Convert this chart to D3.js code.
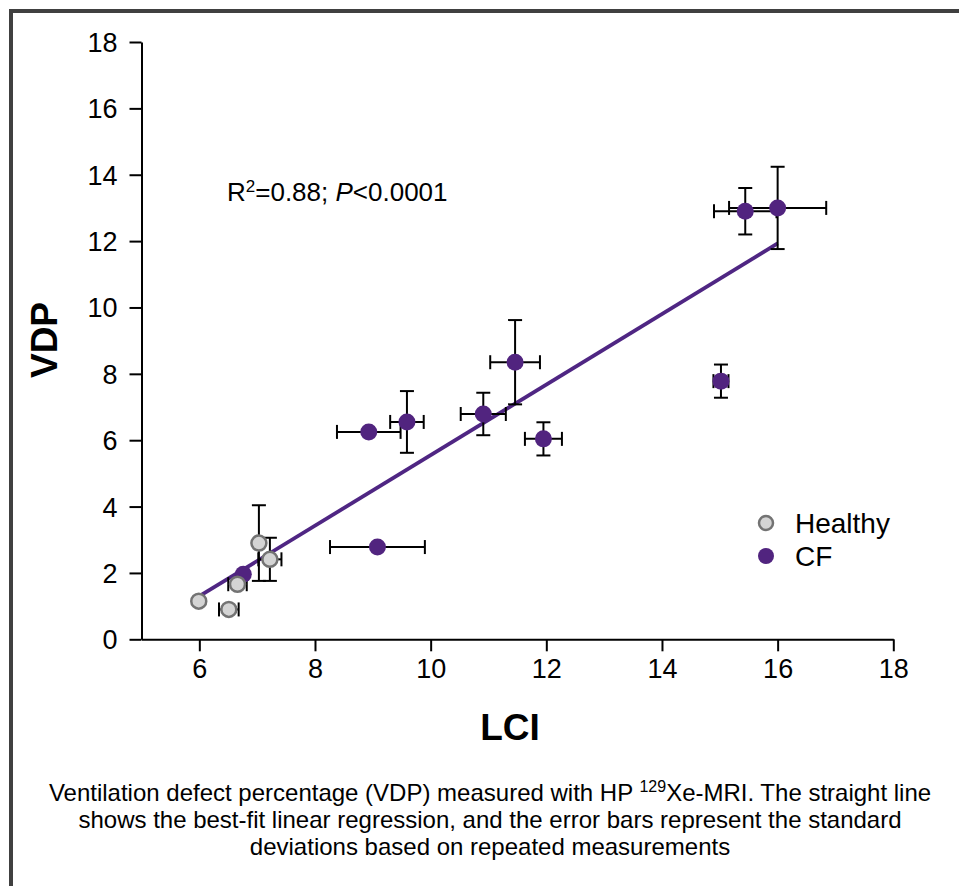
<!DOCTYPE html>
<meta charset="utf-8">
<script src="https://d3js.org/d3.v7.min.js"></script>
<style>
  body { margin: 0; background: #fff; }
  text { font-family: "Liberation Sans", Arial, sans-serif; }
</style>
<div id="chart"></div>
<script>

// Healthy volunteers: LCI, VDP and their SDs
var healthyLCI   = [5.99, 6.51, 6.66, 7.03, 7.22];
var healthyVDP   = [1.15, 0.90, 1.66, 2.90, 2.41];
var healthyLCIsd = [0,    0.17, 0.16, 0,    0.20];
var healthyVDPsd = [0,    0,    0,    1.14, 0.65];

// CF patients
var cfLCI   = [16.0, 15.44, 15.02, 11.46, 10.91, 11.95, 9.59, 8.93, 9.08, 6.76];
var cfVDP   = [13.0, 12.9,  7.78,  8.35,  6.79,  6.04,  6.55, 6.25, 2.78, 1.96];
var cfLCIsd = [0.84, 0.54,  0.13,  0.43,  0.39,  0.32,  0.29, 0.55, 0.82, 0];
var cfVDPsd = [1.24, 0.70,  0.50,  1.27,  0.64,  0.50,  0.93, 0,    0,    0];

// regression line
var fitLCI = [6, 16];
var fitSlope = 1.063, fitIntercept = -5.08;

var xTicks = [6, 8, 10, 12, 14, 16, 18];
var yTicks = [0, 2, 4, 6, 8, 10, 12, 14, 16, 18];

var W = 959, H = 886;
var svg = d3.select("#chart").append("svg")
  .attr("width", W).attr("height", H);

// frame round the figure
svg.append("rect")
  .attr("x", 11).attr("y", 11)
  .attr("width", W + 20).attr("height", H + 20)
  .attr("fill", "none")
  .attr("stroke", "#404040")
  .attr("stroke-width", 4);

var x = d3.scaleLinear().domain([5, 18]).range([141.5, 893.3]);
var y = d3.scaleLinear().domain([0, 18]).range([639.3, 42]);

// axes
var xAxis = svg.append("g")
  .attr("transform", "translate(0," + y(0) + ")")
  .call(d3.axisBottom(x).tickValues(xTicks).tickSize(12).tickSizeOuter(0).tickPadding(8));
var yAxis = svg.append("g")
  .attr("transform", "translate(" + x(5) + ",0)")
  .call(d3.axisLeft(y).tickValues(yTicks).tickSize(12).tickSizeOuter(0).tickPadding(12));

[xAxis, yAxis].forEach(function(a) {
  a.selectAll("path, line").attr("stroke", "#000").attr("stroke-width", 2);
  a.selectAll("text")
    .attr("fill", "#000")
    .style("font-size", "27px")
    .style("font-family", "'Liberation Sans', Arial, sans-serif");
});
yAxis.selectAll("text").attr("dy", "0.35em");

// axis titles
svg.append("text")
  .attr("x", 510).attr("y", 740)
  .attr("text-anchor", "middle")
  .style("font-size", "37px").style("font-weight", "bold")
  .text("LCI");
svg.append("text")
  .attr("transform", "translate(57,340) rotate(-90)")
  .attr("text-anchor", "middle")
  .style("font-size", "37px").style("font-weight", "bold")
  .text("VDP");

// regression line
svg.append("line")
  .attr("x1", x(fitLCI[0])).attr("y1", y(fitSlope * fitLCI[0] + fitIntercept))
  .attr("x2", x(fitLCI[1])).attr("y2", y(fitSlope * fitLCI[1] + fitIntercept))
  .attr("stroke", "#4f2683")
  .attr("stroke-width", 3.8);

// error bars
function errorBars(lci, vdp, lciSd, vdpSd) {
  var g = svg.append("g").attr("stroke", "#000").attr("stroke-width", 2);
  var cap = 7;
  lci.forEach(function(v, i) {
    var cx = x(v), cy = y(vdp[i]);
    if (lciSd[i] > 0) {
      var x0 = x(v - lciSd[i]), x1 = x(v + lciSd[i]);
      g.append("line").attr("x1", x0).attr("x2", x1).attr("y1", cy).attr("y2", cy);
      g.append("line").attr("x1", x0).attr("x2", x0).attr("y1", cy - cap).attr("y2", cy + cap);
      g.append("line").attr("x1", x1).attr("x2", x1).attr("y1", cy - cap).attr("y2", cy + cap);
    }
    if (vdpSd[i] > 0) {
      var y0 = y(vdp[i] - vdpSd[i]), y1 = y(vdp[i] + vdpSd[i]);
      g.append("line").attr("x1", cx).attr("x2", cx).attr("y1", y0).attr("y2", y1);
      g.append("line").attr("x1", cx - cap).attr("x2", cx + cap).attr("y1", y0).attr("y2", y0);
      g.append("line").attr("x1", cx - cap).attr("x2", cx + cap).attr("y1", y1).attr("y2", y1);
    }
  });
}
errorBars(cfLCI, cfVDP, cfLCIsd, cfVDPsd);
errorBars(healthyLCI, healthyVDP, healthyLCIsd, healthyVDPsd);

// points
svg.append("g").selectAll("circle")
  .data(cfLCI)
  .enter().append("circle")
    .attr("cx", function(d) { return x(d); })
    .attr("cy", function(d, i) { return y(cfVDP[i]); })
    .attr("r", 8.5)
    .attr("fill", "#51247f");

svg.append("g").selectAll("circle")
  .data(healthyLCI)
  .enter().append("circle")
    .attr("cx", function(d) { return x(d); })
    .attr("cy", function(d, i) { return y(healthyVDP[i]); })
    .attr("r", 7.5)
    .attr("fill", "#d4d4d4")
    .attr("stroke", "#737373")
    .attr("stroke-width", 2.5);

// statistics
var stat = svg.append("text")
  .attr("x", 227).attr("y", 201)
  .style("font-size", "26px");
stat.append("tspan").text("R");
stat.append("tspan").attr("dy", -9).style("font-size", "17px").text("2");
stat.append("tspan").attr("dy", 9).text("=0.88; ");
stat.append("tspan").style("font-style", "italic").text("P");
stat.append("tspan").text("<0.0001");

// legend
var legend = svg.append("g");
legend.append("circle").attr("cx", 766).attr("cy", 523).attr("r", 7)
  .attr("fill", "#d4d4d4").attr("stroke", "#737373").attr("stroke-width", 2.5);
legend.append("circle").attr("cx", 766).attr("cy", 556).attr("r", 8)
  .attr("fill", "#51247f");
legend.append("text").attr("x", 795).attr("y", 533).style("font-size", "28px").text("Healthy");
legend.append("text").attr("x", 795).attr("y", 566).style("font-size", "28px").text("CF");

// caption
var cap1 = svg.append("text")
  .attr("x", 490).attr("y", 801)
  .attr("text-anchor", "middle")
  .style("font-size", "24px");
cap1.append("tspan").text("Ventilation defect percentage (VDP) measured with HP ");
cap1.append("tspan").attr("dy", -9).style("font-size", "16px").text("129");
cap1.append("tspan").attr("dy", 9).text("Xe-MRI. The straight line");

svg.append("text")
  .attr("x", 490).attr("y", 828)
  .attr("text-anchor", "middle")
  .style("font-size", "24px")
  .text("shows the best-fit linear regression, and the error bars represent the standard");
svg.append("text")
  .attr("x", 490).attr("y", 855)
  .attr("text-anchor", "middle")
  .style("font-size", "24px")
  .text("deviations based on repeated measurements");

</script>
